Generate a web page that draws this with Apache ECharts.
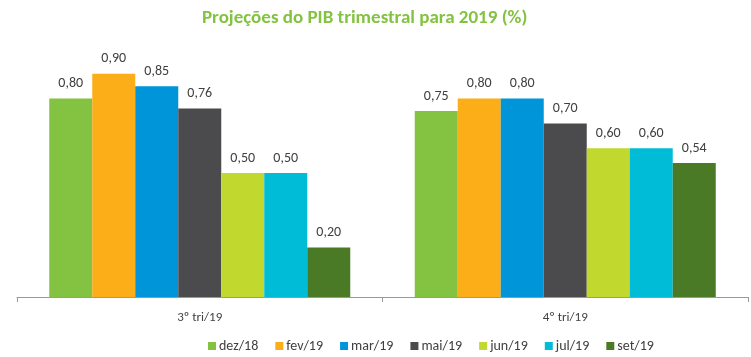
<!DOCTYPE html>
<html><head><meta charset="utf-8">
<script src="https://cdn.jsdelivr.net/npm/echarts@6/dist/echarts.min.js"></script>
<style>html,body{margin:0;padding:0;background:#fff}#c{width:751px;height:357px}</style>
</head><body><div id="c"></div>
<script>
const categories = ['3º tri/19', '4º tri/19'];
const seriesNames = ['dez/18', 'fev/19', 'mar/19', 'mai/19', 'jun/19', 'jul/19', 'set/19'];
const dez18 = [0.80, 0.75];
const fev19 = [0.90, 0.80];
const mar19 = [0.85, 0.80];
const mai19 = [0.76, 0.70];
const jun19 = [0.50, 0.60];
const jul19 = [0.50, 0.60];
const set19 = [0.20, 0.54];
const colors = ['#84C341', '#FBAE17', '#0095D9', '#4B4B4D', '#C1D82F', '#00BCD6', '#4B7A27'];
const values = [dez18, fev19, mar19, mai19, jun19, jul19, set19];
const FONT = 'Carlito, Lato, sans-serif';

const chart = echarts.init(document.getElementById('c'));
chart.setOption({
  animation: false,
  textStyle: { fontFamily: FONT },
  title: {
    text: 'Projeções do PIB trimestral para 2019 (%)',
    left: 197, top: 4,
    textStyle: { color: '#84C341', fontSize: 19, fontWeight: 'bold', fontFamily: FONT }
  },
  legend: {
    data: seriesNames,
    left: 203, top: 334,
    itemWidth: 8, itemHeight: 8, itemGap: 17,
    icon: 'rect',
    textStyle: { color: '#404040', fontSize: 14, fontFamily: FONT, padding: [0, 0, 0, -2] }
  },
  grid: { left: 17, right: 3, top: 49, bottom: 60 },
  xAxis: {
    type: 'category',
    data: categories,
    axisLine: { lineStyle: { color: '#999' } },
    axisTick: { show: true, length: 5, lineStyle: { color: '#999' } },
    axisLabel: { color: '#404040', fontSize: 13, margin: 14, fontFamily: FONT }
  },
  yAxis: { type: 'value', min: 0, max: 1, show: false, splitLine: { show: false } },
  series: seriesNames.map((n, i) => ({
    name: n, type: 'bar', data: values[i],
    barWidth: 43, barGap: '0%',
    itemStyle: { color: colors[i] },
    label: {
      show: true, position: 'top', distance: 8,
      color: '#404040', fontSize: 14, fontFamily: FONT,
      formatter: p => p.value.toFixed(2).replace('.', ',')
    }
  }))
});
</script></body></html>
